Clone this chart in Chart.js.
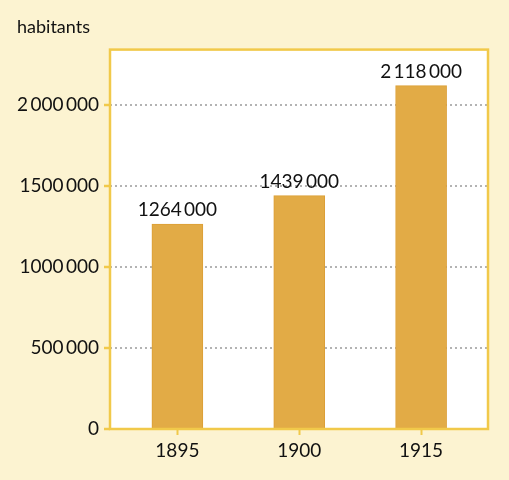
<!DOCTYPE html>
<html>
<head>
<meta charset="utf-8">
<script src="https://cdn.jsdelivr.net/npm/chart.js@4/dist/chart.umd.min.js"></script>
<style>
  body { margin: 0; background: #fcf3d1; }
  canvas { display: block; }
</style>
</head>
<body>
<canvas id="popChart" width="509" height="480"></canvas>
<script>
var years = ['1895', '1900', '1915'];
var habitants = [1264000, 1439000, 2118000];
var yTicks = [0, 500000, 1000000, 1500000, 2000000];

var bgColor = '#fcf3d1';
var frameColor = '#f1c94a';
var barColor = '#e2ab46';

// groupe les milliers, "1 500 000" -> "1500 000" comme sur l'original
function fmt(v) {
    var s = String(v).replace(/\B(?=(\d{3})+(?!\d))/g, ' ');
    s = s.replace(/^1 (\d{3} \d{3})$/, '1$1');
    return s.replace(/ /g, '\u2009');
}

var fondPlugin = {
    id: 'fond',
    beforeDraw: function (chart) {
        var ctx = chart.ctx, a = chart.chartArea;
        ctx.save();
        ctx.fillStyle = bgColor;
        ctx.fillRect(0, 0, chart.width, chart.height);
        ctx.fillStyle = '#ffffff';
        ctx.fillRect(a.left, a.top, a.right - a.left, a.bottom - a.top);
        ctx.restore();
    },
    afterDatasetsDraw: function (chart) {
        var ctx = chart.ctx, a = chart.chartArea;
        ctx.save();
        ctx.strokeStyle = frameColor;
        ctx.lineWidth = 2.5;
        ctx.strokeRect(a.left, a.top, a.right - a.left, a.bottom - a.top);
        // valeurs au-dessus des barres
        ctx.fillStyle = '#111';
        ctx.font = '19px Lato';
        ctx.textAlign = 'center';
        ctx.textBaseline = 'middle';
        chart.getDatasetMeta(0).data.forEach(function (bar, i) {
            ctx.fillText(fmt(habitants[i]), bar.x, bar.y - 14);
        });
        ctx.restore();
    }
};

var ctx = document.getElementById('popChart').getContext('2d');
var popChartInstance = new Chart(ctx, {
    type: 'bar',
    data: {
        datasets: [{
            data: habitants.map((v, i) => ({ x: i, y: v })),
            backgroundColor: barColor,
            borderColor: '#dc9f36',
            borderWidth: 1,
            barThickness: 51
        }]
    },
    options: {
        responsive: false,
        animation: false,
        layout: { padding: { left: 17, right: 21, top: 0, bottom: 0 } },
        plugins: {
            legend: { display: false },
            tooltip: { enabled: false },
            title: {
                display: true,
                text: 'habitants',
                align: 'start',
                color: '#111',
                font: { family: 'Lato', size: 18, weight: 'normal' },
                padding: { top: 16, bottom: 12 }
            }
        },
        scales: {
            x: {
                type: 'linear',
                offset: false,
                min: -0.553,
                max: 2.549,
                afterBuildTicks: function (scale) {
                    scale.ticks = years.map((y, i) => ({ value: i }));
                },
                afterFit: function (scale) { scale.height = 51; },
                ticks: {
                    color: '#111',
                    font: { family: 'Lato', size: 19 },
                    padding: 4,
                    maxRotation: 0,
                    callback: function (value) { return years[value]; }
                },
                grid: {
                    offset: false,
                    drawOnChartArea: false,
                    tickLength: 6,
                    tickColor: frameColor,
                    tickWidth: 2
                },
                border: { display: false }
            },
            y: {
                min: 0,
                max: 2340000,
                afterBuildTicks: function (scale) {
                    scale.ticks = yTicks.map(v => ({ value: v }));
                },
                afterFit: function (scale) { scale.width = 93; },
                ticks: {
                    color: '#111',
                    font: { family: 'Lato', size: 19 },
                    padding: 5,
                    callback: function (value) { return fmt(value); }
                },
                grid: {
                    color: '#b3b3b3',
                    lineWidth: 2,
                    tickLength: 6,
                    tickColor: frameColor,
                    tickWidth: 2.5
                },
                border: { display: false, dash: [2, 3] }
            }
        }
    },
    plugins: [fondPlugin]
});
</script>
</body>
</html>
